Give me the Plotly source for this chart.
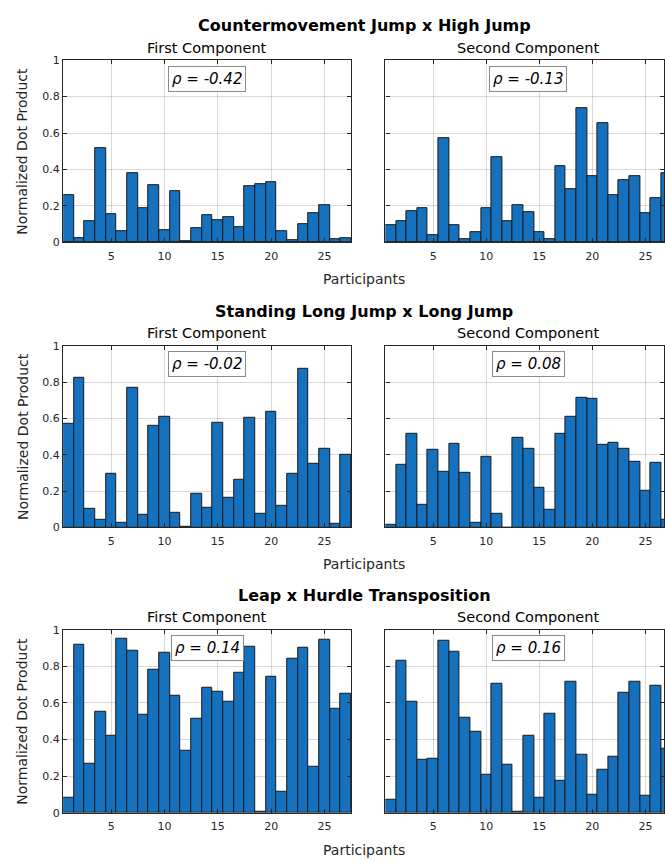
import plotly.graph_objects as go

participants = list(range(1, 28))

cmj_hj_first = [0.261, 0.025, 0.117, 0.519, 0.153, 0.063, 0.378, 0.187, 0.313, 0.067,
                0.279, 0.007, 0.077, 0.148, 0.124, 0.139, 0.086, 0.306, 0.322, 0.331,
                0.063, 0.013, 0.101, 0.160, 0.204, 0.016, 0.023]
cmj_hj_second = [0.097, 0.117, 0.171, 0.186, 0.041, 0.571, 0.097, 0.016, 0.058, 0.186,
                 0.468, 0.119, 0.205, 0.166, 0.058, 0.016, 0.420, 0.294, 0.737, 0.364,
                 0.656, 0.261, 0.339, 0.364, 0.162, 0.245, 0.382]
slj_lj_first = [0.571, 0.823, 0.101, 0.040, 0.293, 0.027, 0.770, 0.067, 0.559, 0.611,
                0.081, 0.002, 0.186, 0.108, 0.577, 0.165, 0.260, 0.606, 0.072, 0.635,
                0.119, 0.293, 0.875, 0.351, 0.434, 0.022, 0.400]
slj_lj_second = [0.014, 0.342, 0.513, 0.124, 0.428, 0.308, 0.459, 0.302, 0.027, 0.390,
                 0.072, 0.000, 0.491, 0.430, 0.218, 0.097, 0.513, 0.608, 0.716, 0.710,
                 0.453, 0.468, 0.435, 0.362, 0.203, 0.353, 0.040]
leap_ht_first = [0.084, 0.919, 0.267, 0.551, 0.420, 0.953, 0.885, 0.533, 0.781, 0.872,
                 0.637, 0.336, 0.515, 0.682, 0.659, 0.605, 0.763, 0.907, 0.005, 0.741,
                 0.117, 0.844, 0.900, 0.253, 0.948, 0.566, 0.650]
leap_ht_second = [0.072, 0.828, 0.607, 0.289, 0.293, 0.941, 0.881, 0.517, 0.442, 0.208,
                  0.706, 0.264, 0.005, 0.418, 0.079, 0.542, 0.174, 0.718, 0.316, 0.097,
                  0.237, 0.303, 0.655, 0.715, 0.093, 0.693, 0.352]

row_titles = ["Countermovement Jump x High Jump",
              "Standing Long Jump x Long Jump",
              "Leap x Hurdle Transposition"]
col_titles = ["First Component", "Second Component"]
rho_values = [["-0.42", "-0.13"], ["-0.02", "0.08"], ["0.14", "0.16"]]
series = [[cmj_hj_first, cmj_hj_second],
          [slj_lj_first, slj_lj_second],
          [leap_ht_first, leap_ht_second]]

y_ticks = [0, 0.2, 0.4, 0.6, 0.8, 1]
y_tick_labels = ["0", "0.2", "0.4", "0.6", "0.8", "1"]
x_ticks = [5, 10, 15, 20, 25]
x_tick_labels = ["5", "10", "15", "20", "25"]
x_label = "Participants"
y_label = "Normalized Dot Product"

W, H = 665, 863
FONT = "DejaVu Sans"
AX = "#262626"
BAR = "#1570bd"
GRID = "rgba(0,0,0,0.15)"


def fx(p):
    return p / W


def fy(p):
    return 1 - p / H


panel_rows = [(55, 240), (345, 529.3), (633.3, 819)]
panel_cols = [(63.3, 351.7), (386, 665)]
col_centers = [207.5, 529]
x_ranges = [[0.5, 27.5], [0.5, 26.75]]

fig = go.Figure()
layout = dict(
    width=W, height=H,
    margin=dict(l=0, r=0, t=0, b=0),
    paper_bgcolor="white", plot_bgcolor="white",
    showlegend=False, bargap=0,
    font=dict(family=FONT, color=AX),
)
annotations = []

for r in range(3):
    top, bot = panel_rows[r]
    for c in range(2):
        k = r * 2 + c + 1
        xs = "" if k == 1 else str(k)
        fig.add_trace(go.Bar(
            x=participants, y=series[r][c],
            xaxis="x" + xs, yaxis="y" + xs,
            marker=dict(color=BAR, line=dict(color="#1a1a1a", width=1)),
            width=1,
        ))
        left, right = panel_cols[c]
        layout["xaxis" + xs] = dict(
            domain=[fx(left), fx(right)], range=x_ranges[c], anchor="y" + xs,
            tickvals=x_ticks, ticktext=x_tick_labels,
            showgrid=True, gridcolor=GRID, gridwidth=1, zeroline=False,
            showline=True, linecolor=AX, linewidth=1.3, mirror="ticks",
            ticks="inside", ticklen=4, tickcolor=AX,
            tickfont=dict(size=11, color=AX, family=FONT),
            ticklabelstandoff=3,
        )
        layout["yaxis" + xs] = dict(
            domain=[fy(bot), fy(top)], range=[0, 1], anchor="x" + xs,
            tickvals=y_ticks, ticktext=y_tick_labels, showticklabels=(c == 0),
            showgrid=True, gridcolor=GRID, gridwidth=1, zeroline=False,
            showline=True, linecolor=AX, linewidth=1.3, mirror="ticks",
            ticks="inside", ticklen=4, tickcolor=AX,
            tickfont=dict(size=11, color=AX, family=FONT),
        )
        annotations.append(dict(
            text=col_titles[c], xref="paper", yref="paper",
            x=fx(col_centers[c]), y=fy(top - 12.5), xanchor="center", yanchor="middle",
            showarrow=False, font=dict(size=14.5, color="#000000", family=FONT),
        ))
        annotations.append(dict(
            text="<i>\u03c1 = " + rho_values[r][c] + "</i>", xref="paper", yref="paper",
            x=fx(col_centers[c]), y=fy(top + 18.7), xanchor="center", yanchor="middle",
            showarrow=False, font=dict(size=15, color="#000000", family=FONT),
            bordercolor="#8a8a8a", borderwidth=1, borderpad=3, bgcolor="white",
        ))
    annotations.append(dict(
        text="<b>" + row_titles[r] + "</b>", xref="paper", yref="paper",
        x=fx(365), y=fy(top - 35), xanchor="center", yanchor="middle",
        showarrow=False, font=dict(size=16, color="#000000", family=FONT),
    ))
    annotations.append(dict(
        text=x_label, xref="paper", yref="paper",
        x=fx(365), y=fy(bot + 37.5), xanchor="center", yanchor="middle",
        showarrow=False, font=dict(size=14, color=AX, family=FONT),
    ))
    annotations.append(dict(
        text=y_label, xref="paper", yref="paper", textangle=-90,
        x=fx(22.5), y=fy((top + bot) / 2), xanchor="center", yanchor="middle",
        showarrow=False, font=dict(size=14, color=AX, family=FONT),
    ))

layout["annotations"] = annotations
fig.update_layout(**layout)
fig.write_html(
    "out.html",
    config={"displayModeBar": False},
    post_script=(
        "var gd=document.getElementById('{plot_id}');"
        "gd.style.position='fixed';gd.style.left='0';gd.style.top='0';"
        "gd.style.width='665px';gd.style.height='863px';"
        "var h=document.documentElement,b=document.body;"
        "h.style.margin='0';b.style.margin='0';b.style.padding='0';"
        "h.style.overflow='hidden';b.style.overflow='hidden';"
        "h.style.width='665px';h.style.height='863px';"
        "b.style.width='665px';b.style.height='863px';"
    ),
)
